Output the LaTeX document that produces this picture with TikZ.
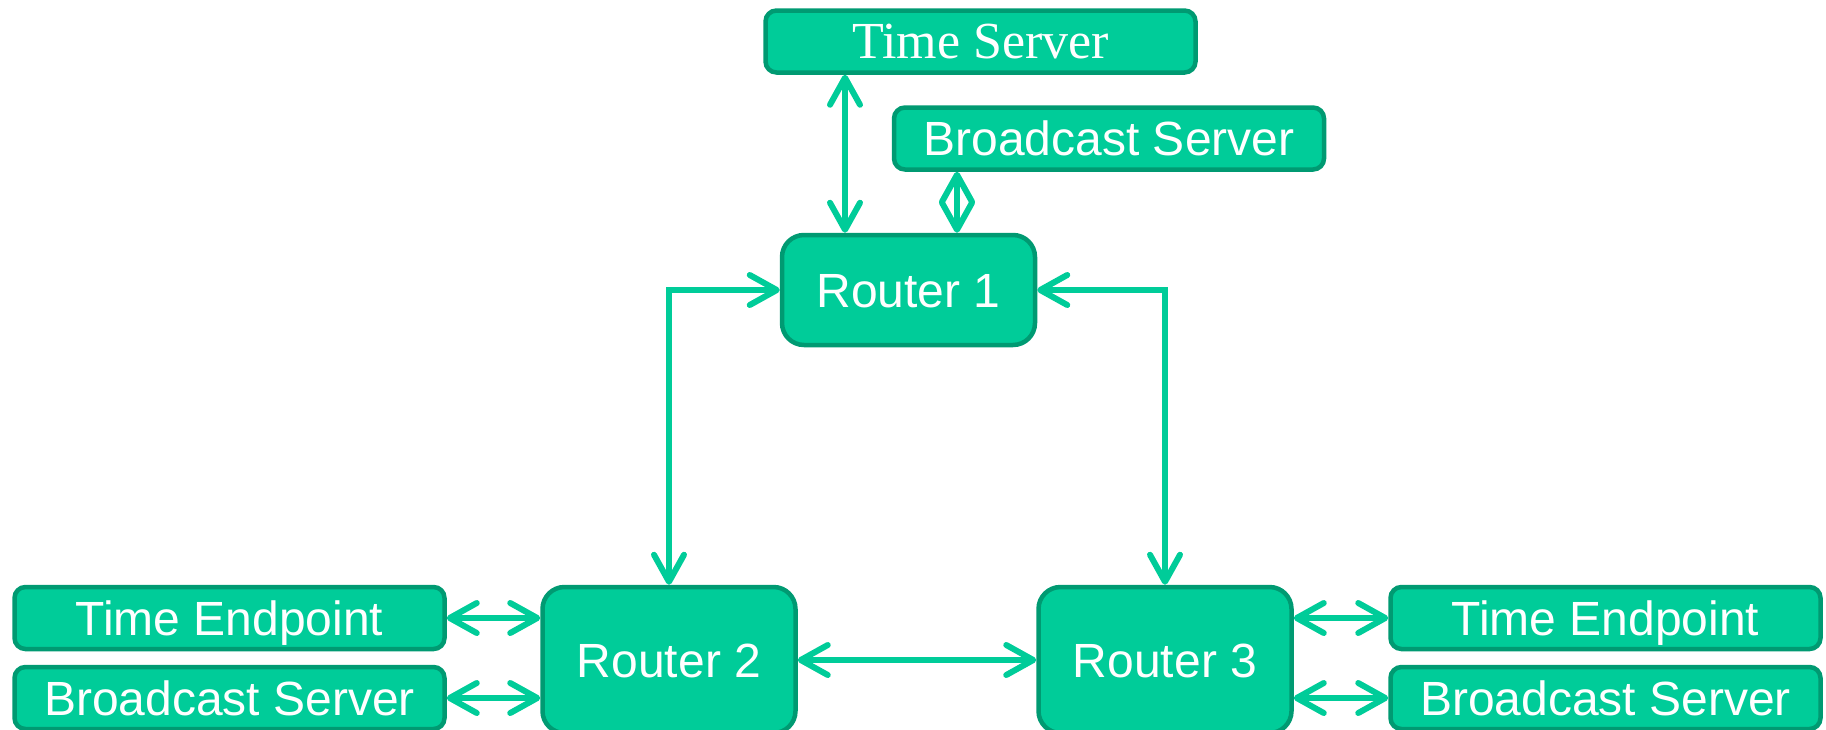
\documentclass[tikz,border=0pt]{standalone}
\usepackage{fontspec}
\setmainfont{Liberation Sans}
\newfontfamily\serifface{Liberation Serif}
\usetikzlibrary{arrows.meta}
\definecolor{boxfill}{HTML}{00CC99}
\definecolor{boxline}{HTML}{009A72}
\definecolor{wire}{HTML}{00CC99}

\begin{document}
\begin{tikzpicture}[x=1pt,y=-1pt,
  nodebox/.style={draw=boxline, fill=boxfill, line width=4.5pt, text=white,
    inner sep=0pt, font=\fontsize{48}{56}\selectfont,
    text height=34pt, text depth=0pt},
  leafbox/.style={nodebox, rounded corners=11pt, minimum width=430pt, minimum height=62pt},
  routerbox/.style={nodebox, rounded corners=22pt, minimum width=253pt},
  barb/.tip={Straight Barb[length=27pt,width=30pt,round]},
  link/.style={draw=wire, line width=6pt, line cap=round, barb-barb}
]
\useasboundingbox (0,0) rectangle (1826,729);

% servers at the top
\node[leafbox, font=\serifface\fontsize{52}{62}\selectfont, text height=34pt]
  (ts) at (980.5,41.5) {Time Server};
\node[leafbox] (bs0) at (1109,138.5) {Broadcast Server};

% routers
\node[routerbox, minimum height=110pt] (r1) at (908.5,290) {Router 1};
\node[routerbox, minimum height=146pt] (r2) at (669,660) {Router 2};
\node[routerbox, minimum height=146pt] (r3) at (1165,660) {Router 3};

% endpoints and local servers
\node[leafbox] (te1) at (229.5,618) {Time Endpoint};
\node[leafbox] (bs1) at (229.5,698) {Broadcast Server};
\node[leafbox] (te2) at (1605.5,618) {Time Endpoint};
\node[leafbox] (bs2) at (1605.5,698) {Broadcast Server};

% links
\coordinate (tsx) at (845,0);
\coordinate (bsx) at (957,0);
\draw[link] (ts.south -| tsx) -- (r1.north -| tsx);
\draw[link] (bs0.south -| bsx) -- (r1.north -| bsx);
\draw[link] (r1.west) -| (r2.north);
\draw[link] (r1.east) -| (r3.north);
\draw[link] (r2.east) -- (r3.west);
\draw[link] (te1.east) -- (te1.east -| r2.west);
\draw[link] (bs1.east) -- (bs1.east -| r2.west);
\draw[link] (r3.east |- te2.west) -- (te2.west);
\draw[link] (r3.east |- bs2.west) -- (bs2.west);
\end{tikzpicture}
\end{document}
